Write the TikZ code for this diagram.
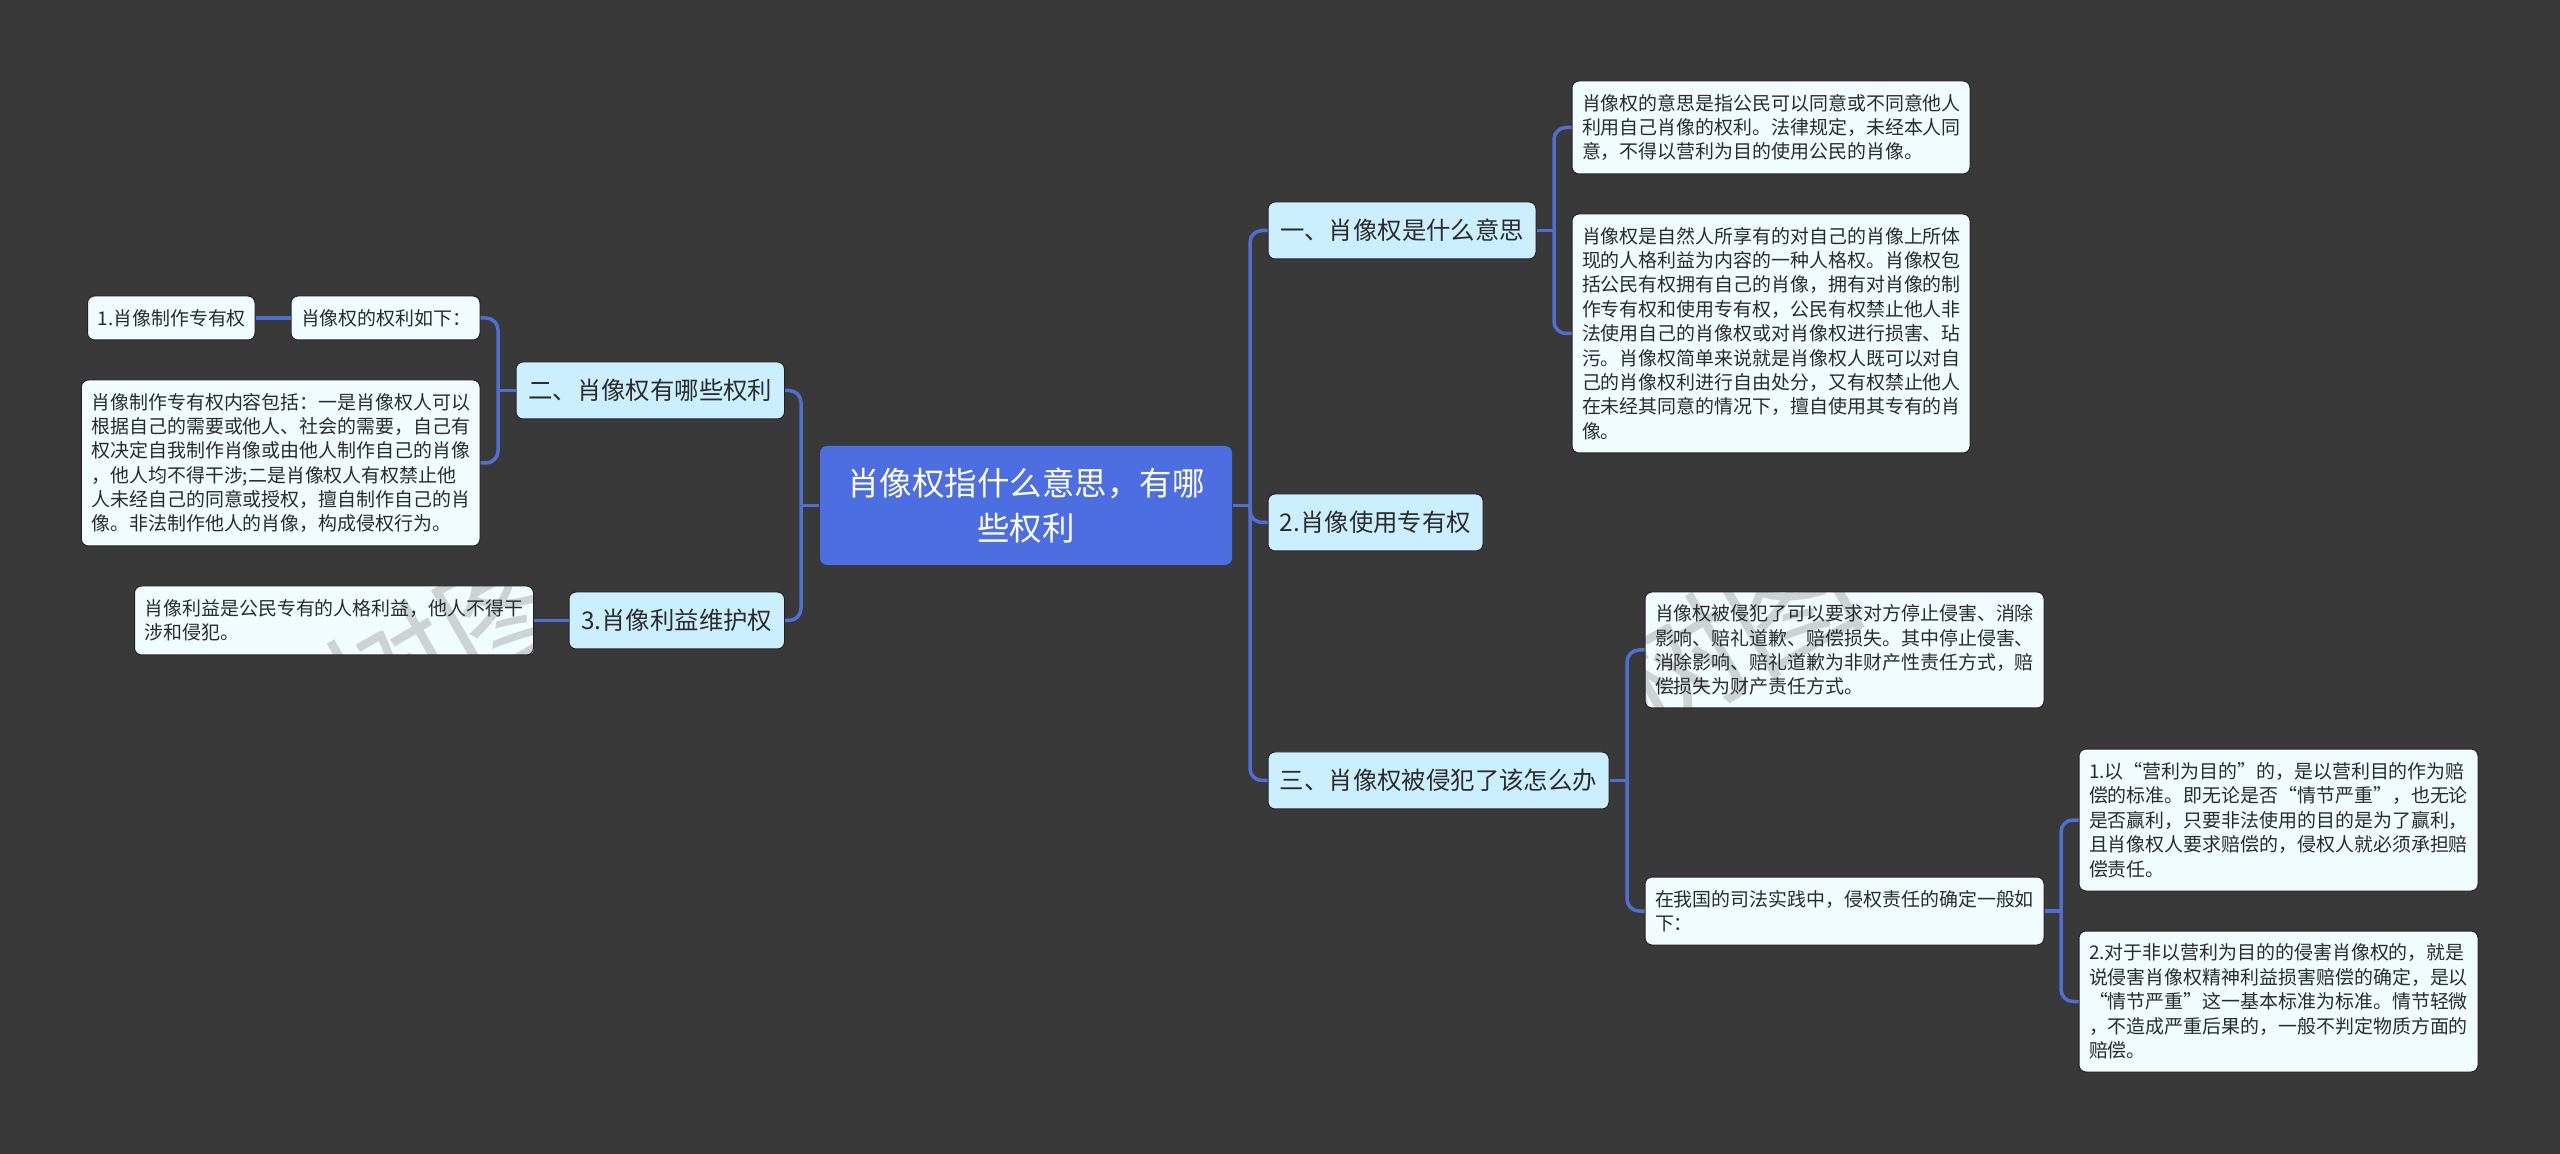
\documentclass[tikz,border=0pt]{standalone}
\usepackage{fontspec}
\setmainfont{Noto Sans CJK SC}
\usetikzlibrary{calc}
\definecolor{bgcol}{HTML}{3A393A}
\definecolor{rootcol}{HTML}{4D6EE0}
\definecolor{subcol}{HTML}{CBEFFF}
\definecolor{leafcol}{HTML}{F0FCFF}
\definecolor{linecol}{HTML}{4F6FD2}
\definecolor{inkcol}{HTML}{2B2B2B}
\definecolor{markcol}{HTML}{CDD3D3}
\tikzset{
    rootnode/.style={fill=rootcol,text=white,rounded corners=0.7mm,align=center,inner sep=0pt,
        font=\fontsize{9.24pt}{12.8pt}\selectfont},
    subnode/.style={fill=subcol,text=inkcol,rounded corners=0.7mm,align=center,inner sep=0pt,
        draw=bgcol!60!black,line width=0.1mm,font=\fontsize{6.94pt}{9pt}\selectfont},
    leafnode/.style={fill=leafcol,text=inkcol,rounded corners=0.7mm,align=left,inner xsep=1mm,inner ysep=0pt,
        draw=bgcol!60!black,line width=0.1mm,font=\fontsize{5.39pt}{6.94pt}\selectfont},
    conn/.style={draw=linecol,line width=0.35mm},
    elbow/.style={conn,rounded corners=1.2mm},
    stamp/.style={text=markcol,rotate=30,text width={},minimum width=0pt,minimum height=0pt,inner sep=0pt,
        font=\fontsize{36pt}{36pt}\selectfont},
    % the mark sits on the fill of a box, under its text
    stamped/.style={path picture={\node[stamp] at ($(path picture bounding box.center)+(#1)$) {树图};}},
}
\begin{document}
\begin{tikzpicture}[x=0.1mm,y=-0.1mm]
    % background
    \fill[bgcol] (0,0) rectangle (2560,1154);
    % the root
    \node[rootnode,minimum width=41.2mm,minimum height=11.9mm] (root) at (1026,505.5) {肖像权指什么意思，有哪\\些权利};
    % right side, first level
    \node[subnode,minimum width=26.8mm,minimum height=5.7mm] (one) at (1402,230.5) {一、肖像权是什么意思};
    \node[subnode,minimum width=21.5mm,minimum height=5.7mm] (use) at (1375.5,522.5) {2.肖像使用专有权};
    \node[subnode,minimum width=34.1mm,minimum height=5.7mm] (three) at (1438.5,780.5) {三、肖像权被侵犯了该怎么办};
    % right side, leaves
    \node[leafnode,text width=37.8mm,minimum height=9.3mm] (mean) at (1771,127.5) {肖像权的意思是指公民可以同意或不同意他人\\利用自己肖像的权利。法律规定，未经本人同\\意，不得以营利为目的使用公民的肖像。};
    \node[leafnode,text width=37.8mm,minimum height=23.9mm] (nature) at (1771,333.5) {肖像权是自然人所享有的对自己的肖像上所体\\现的人格利益为内容的一种人格权。肖像权包\\括公民有权拥有自己的肖像，拥有对肖像的制\\作专有权和使用专有权，公民有权禁止他人非\\法使用自己的肖像权或对肖像权进行损害、玷\\污。肖像权简单来说就是肖像权人既可以对自\\己的肖像权利进行自由处分，又有权禁止他人\\在未经其同意的情况下，擅自使用其专有的肖\\像。};
    \node[leafnode,stamped={-109.5,-15},text width=37.9mm,minimum height=11.6mm] (remedy) at (1844.5,650) {肖像权被侵犯了可以要求对方停止侵害、消除\\影响、赔礼道歉、赔偿损失。其中停止侵害、\\消除影响、赔礼道歉为非财产性责任方式，赔\\偿损失为财产责任方式。};
    \node[leafnode,text width=37.9mm,minimum height=6.8mm] (court) at (1844.5,911) {在我国的司法实践中，侵权责任的确定一般如\\下：};
    \node[leafnode,text width=37.9mm,minimum height=14.2mm] (profit) at (2278.5,820) {1.以“营利为目的”的，是以营利目的作为赔\\偿的标准。即无论是否“情节严重”，也无论\\是否赢利，只要非法使用的目的是为了赢利，\\且肖像权人要求赔偿的，侵权人就必须承担赔\\偿责任。};
    \node[leafnode,text width=37.9mm,minimum height=14.1mm] (nonprofit) at (2278.5,1001.5) {2.对于非以营利为目的的侵害肖像权的，就是\\说侵害肖像权精神利益损害赔偿的确定，是以\\“情节严重”这一基本标准为标准。情节轻微\\，不造成严重后果的，一般不判定物质方面的\\赔偿。};
    % left side, first level
    \node[subnode,minimum width=26.85mm,minimum height=5.7mm] (rights) at (650.25,390.5) {二、肖像权有哪些权利};
    \node[subnode,minimum width=21.55mm,minimum height=5.7mm] (keep) at (676.75,620.5) {3.肖像利益维护权};
    % left side, leaves
    \node[leafnode,text width=16.9mm,minimum height=4.4mm] (list) at (385.5,318) {肖像权的权利如下：};
    \node[leafnode,text width=14.75mm,minimum height=4.4mm] (make) at (171.25,318) {1.肖像制作专有权};
    \node[leafnode,text width=37.86mm,minimum height=16.6mm] (content) at (280.7,463) {肖像制作专有权内容包括：一是肖像权人可以\\根据自己的需要或他人、社会的需要，自己有\\权决定自我制作肖像或由他人制作自己的肖像\\，他人均不得干涉;二是肖像权人有权禁止他\\人未经自己的同意或授权，擅自制作自己的肖\\像。非法制作他人的肖像，构成侵权行为。};
    \node[leafnode,stamped={114,21.5},text width=37.9mm,minimum height=6.9mm] (benefit) at (334,620.5) {肖像利益是公民专有的人格利益，他人不得干\\涉和侵犯。};
    % the trunks
    \coordinate (rt) at (1250,505.5);
    \coordinate (lt) at (801,505.5);
    \coordinate (onet) at (1554,230.5);
    \coordinate (threet) at (1627,780.5);
    \coordinate (courtt) at (2061,911);
    \coordinate (rightst) at (498,390.5);
    % connectors
    \draw[conn] (root.east) -- (rt);
    \draw[conn] (root.west) -- (lt);
    \draw[conn] (one.east) -- (onet);
    \draw[conn] (three.east) -- (threet);
    \draw[conn] (court.east) -- (courtt);
    \draw[conn] (rights.west) -- (rightst);
    \draw[conn] (list.west) -- (make.east);
    \draw[conn] (keep.west) -- (benefit.east);
    \foreach \b in {one,use,three} \draw[elbow] (rt) |- (\b.west);
    \foreach \b in {rights,keep} \draw[elbow] (lt) |- (\b.east);
    \foreach \b in {mean,nature} \draw[elbow] (onet) |- (\b.west);
    \foreach \b in {remedy,court} \draw[elbow] (threet) |- (\b.west);
    \foreach \b in {profit,nonprofit} \draw[elbow] (courtt) |- (\b.west);
    \foreach \b in {list,content} \draw[elbow] (rightst) |- (\b.east);
\end{tikzpicture}
\end{document}
